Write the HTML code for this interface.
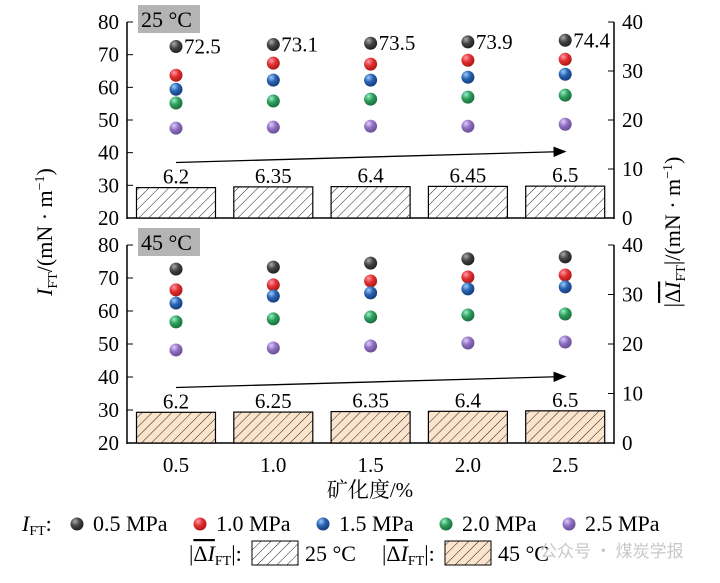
<!DOCTYPE html>
<html><head><meta charset="utf-8"><style>
body{margin:0;background:#fff;width:720px;height:578px;overflow:hidden}
svg{font-family:"Liberation Serif","Noto Serif CJK SC",serif}
</style></head><body>
<svg id="c" width="720" height="578" viewBox="0 0 720 578">
<defs>
<pattern id="h1" width="7" height="7" patternUnits="userSpaceOnUse" patternTransform="rotate(45)"><rect width="7" height="7" fill="#fff"/><line x1="0" y1="0" x2="0" y2="7" stroke="#222" stroke-width="1"/></pattern>
<pattern id="h2" width="7" height="7" patternUnits="userSpaceOnUse" patternTransform="rotate(45)"><rect width="7" height="7" fill="#fbe3cc"/><line x1="0" y1="0" x2="0" y2="7" stroke="#222" stroke-width="1"/></pattern>
<radialGradient id="g0" cx="0.35" cy="0.3" r="0.7"><stop offset="0" stop-color="#aaa"/><stop offset="0.5" stop-color="#444"/><stop offset="1" stop-color="#222"/></radialGradient>
<radialGradient id="g1" cx="0.35" cy="0.3" r="0.7"><stop offset="0" stop-color="#f9a"/><stop offset="0.5" stop-color="#e03030"/><stop offset="1" stop-color="#b01818"/></radialGradient>
<radialGradient id="g2" cx="0.35" cy="0.3" r="0.7"><stop offset="0" stop-color="#9cf"/><stop offset="0.5" stop-color="#2a62b0"/><stop offset="1" stop-color="#163e80"/></radialGradient>
<radialGradient id="g3" cx="0.35" cy="0.3" r="0.7"><stop offset="0" stop-color="#9ec"/><stop offset="0.5" stop-color="#2e9e5a"/><stop offset="1" stop-color="#1a7040"/></radialGradient>
<radialGradient id="g4" cx="0.35" cy="0.3" r="0.7"><stop offset="0" stop-color="#dcf"/><stop offset="0.5" stop-color="#9070c0"/><stop offset="1" stop-color="#6a4e98"/></radialGradient>
<marker id="ar" markerWidth="10" markerHeight="8" refX="9" refY="4" orient="auto"><path d="M0,0 L10,4 L0,8 z" fill="#000"/></marker>
</defs>
</svg>
<script>
const categories=["0.5","1.0","1.5","2.0","2.5"];
const top05=[72.5,73.1,73.5,73.9,74.4];
const top10=[63.7,67.4,67.1,68.3,68.6];
const top15=[59.4,62.2,62.2,63.1,64.0];
const top20=[55.2,55.8,56.4,57.0,57.6];
const top25=[47.5,47.8,48.1,48.1,48.7];
const bot05=[72.7,73.3,74.5,75.8,76.4];
const bot10=[66.4,67.9,69.1,70.3,70.9];
const bot15=[62.4,64.5,65.5,66.7,67.3];
const bot20=[56.7,57.6,58.2,58.8,59.1];
const bot25=[48.2,48.8,49.4,50.3,50.6];
const dTop=[6.2,6.35,6.4,6.45,6.5];
const dBot=[6.2,6.25,6.35,6.4,6.5];
const dTopLabels=["6.2","6.35","6.4","6.45","6.5"];
const dBotLabels=["6.2","6.25","6.35","6.4","6.5"];
const leftTicks=[20,30,40,50,60,70,80];
const rightTicks=[0,10,20,30,40];

const S=document.getElementById('c'),NS="http://www.w3.org/2000/svg";
function mk(t,a,txt){const e=document.createElementNS(NS,t);for(const k in a)e.setAttribute(k,a[k]);if(txt!==undefined)e.textContent=txt;S.appendChild(e);return e;}
const X0=127,X1=614;
const xs=i=>176+i*97.3;
function panel(y20,y80,s,deltas,dl,fill,label,name){
  const ys=v=>y20-(v-20)/60*(y20-y80);
  const yr=v=>ys(20+v*1.5);
  let e=mk('line',{x1:X0,y1:y80,x2:X0,y2:y20+1,stroke:'#000','stroke-width':1.5});
  
  e=mk('line',{x1:X1,y1:y80,x2:X1,y2:y20+1,stroke:'#000','stroke-width':1.5});
  
  e=mk('line',{x1:X0,y1:y20,x2:X1,y2:y20,stroke:'#000','stroke-width':1.5});
  
  leftTicks.forEach(t=>{mk('line',{x1:X0,y1:ys(t),x2:X0+6,y2:ys(t),stroke:'#000'});
    e=mk('text',{x:X0-8,y:ys(t)+7,'text-anchor':'end','font-size':21},t);
    });
  rightTicks.forEach(t=>{mk('line',{x1:X1-6,y1:yr(t),x2:X1,y2:yr(t),stroke:'#000'});
    e=mk('text',{x:X1+8,y:yr(t)+7,'font-size':21},t);
    });
  categories.forEach((c,i)=>{mk('line',{x1:xs(i),y1:y20,x2:xs(i),y2:y20-6,stroke:'#000'});});
  deltas.forEach((d,i)=>{
    e=mk('rect',{x:xs(i)-39.5,y:yr(d),width:79,height:y20-yr(d),fill:fill,stroke:'#000','stroke-width':1.2});
    
    e=mk('text',{x:xs(i),y:yr(d)-4,'text-anchor':'middle','font-size':21},dl[i]);
    
  });
  e=mk('line',{x1:xs(0),y1:y20-55.5,x2:xs(4),y2:y20-66.5,stroke:'#000','stroke-width':1.3,'marker-end':'url(#ar)'});
  
  s.forEach((ser,k)=>ser.forEach((v,i)=>{
    e=mk('circle',{cx:xs(i),cy:ys(v),r:6.5,fill:'url(#g'+k+')'});
    
  }));
  e=mk('rect',{x:138,y:y80-17,width:62,height:28,fill:'#b4b4b4'});
  
  e=mk('text',{x:141,y:y80+5,'font-size':22},label);
  
  return ys;
}
const ysT=panel(218,22,[top05,top10,top15,top20,top25],dTop,dTopLabels,'url(#h1)','25 °C','top');
top05.forEach((v,i)=>{const e=mk('text',{x:xs(i)+8,y:ysT(v)+7,'font-size':21},String(v));
 });
panel(443,245,[bot05,bot10,bot15,bot20,bot25],dBot,dBotLabels,'url(#h2)','45 °C','bottom');
categories.forEach((c,i)=>{const e=mk('text',{x:xs(i),y:472,'text-anchor':'middle','font-size':21},c);
 });
let e=mk('text',{x:370,y:497,'text-anchor':'middle','font-size':21},'矿化度/%');

e=mk('text',{x:0,y:0,transform:'translate(52,232) rotate(-90)','text-anchor':'middle','font-size':22},'');
e.innerHTML='<tspan font-style="italic">I</tspan><tspan font-size="14" dy="5">FT</tspan><tspan dy="-5">/(mN · m</tspan><tspan font-size="14" dy="-8">−1</tspan><tspan dy="8">)</tspan>';

e=mk('text',{x:0,y:0,transform:'translate(680,232) rotate(-90)','text-anchor':'middle','font-size':22},'');
e.innerHTML='|<tspan text-decoration="overline">Δ<tspan font-style="italic">I</tspan></tspan><tspan font-size="14" dy="5">FT</tspan><tspan dy="-5">|/(mN · m</tspan><tspan font-size="14" dy="-8">−1</tspan><tspan dy="8">)</tspan>';

// legend
e=mk('text',{x:22,y:531,'font-size':22},'');e.innerHTML='<tspan font-style="italic">I</tspan><tspan font-size="14" dy="4">FT</tspan><tspan dy="-4">:</tspan>';

const lx=[77,200,323,446,569],ll=['0.5 MPa','1.0 MPa','1.5 MPa','2.0 MPa','2.5 MPa'];
lx.forEach((x,k)=>{e=mk('circle',{cx:x,cy:524,r:6.5,fill:'url(#g'+k+')'});
 
 e=mk('text',{x:x+16,y:531,'font-size':22},ll[k]);
 });
[[189,'url(#h1)','25 °C'],[382,'url(#h2)','45 °C']].forEach(([x,f,t])=>{
 e=mk('text',{x:x,y:561,'font-size':22},'');e.innerHTML='|<tspan text-decoration="overline">Δ<tspan font-style="italic">I</tspan></tspan><tspan font-size="14" dy="4">FT</tspan><tspan dy="-4">|:</tspan>';
 
 e=mk('rect',{x:x+63,y:541,width:46,height:24,fill:f,stroke:'#000'});
 
 e=mk('text',{x:x+116,y:561,'font-size':22},t);
 });
e=mk('text',{x:540,y:557,'font-size':17,fill:'#c8c8c8','font-family':'Noto Sans CJK SC,sans-serif'},'公众号 · 煤炭学报');

</script>
</body></html>
